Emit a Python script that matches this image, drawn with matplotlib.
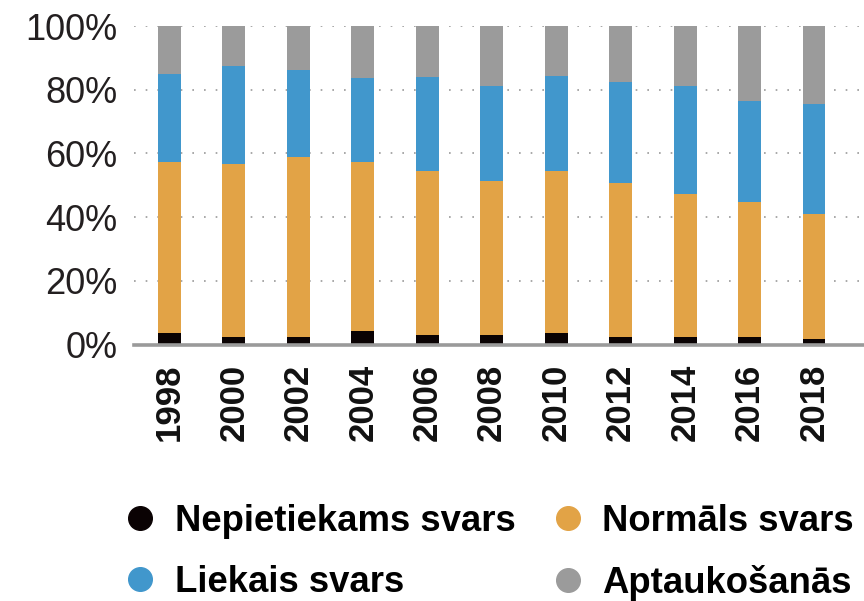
import numpy as np
import matplotlib
matplotlib.use("Agg")
import matplotlib.pyplot as plt
from matplotlib.lines import Line2D

years = [1998, 2000, 2002, 2004, 2006, 2008, 2010, 2012, 2014, 2016, 2018]
underweight = [3.6, 2.4, 2.4, 4.2, 3.0, 3.0, 3.6, 2.4, 2.4, 2.4, 1.7]
normal = [53.7, 54.3, 56.5, 53.1, 51.5, 48.3, 50.9, 48.3, 44.8, 42.3, 39.3]
overweight = [27.6, 30.7, 27.3, 26.4, 29.5, 29.9, 29.8, 31.7, 34.0, 31.7, 34.5]
obese = [15.1, 12.6, 13.8, 16.3, 16.0, 18.8, 15.7, 17.6, 18.8, 23.6, 24.5]

labels = ["Nepietiekams svars", "Normāls svars", "Liekais svars", "Aptaukošanās"]
colors = ["#0a0203", "#e2a346", "#4197cc", "#9b9b9b"]

plt.rcParams["font.family"] = ["Liberation Sans", "DejaVu Sans"]

fig = plt.figure(figsize=(8.64, 6.01), dpi=100)
ax = fig.add_axes([134 / 864, 256.5 / 601, 1 - 134 / 864, (344.5 - 26) / 601])

x = np.array(years, dtype=float)
bottom = np.zeros(len(years))
for vals, col in zip([underweight, normal, overweight, obese], colors):
    ax.bar(x, vals, width=0.71, bottom=bottom, color=col, zorder=2)
    bottom += np.array(vals)

ax.set_xlim(1996.9, 2019.55)
ax.set_ylim(0, 100)
ax.set_yticks([0, 20, 40, 60, 80, 100])
ax.set_yticklabels([f"{v}%" for v in [0, 20, 40, 60, 80, 100]],
                   fontsize=26, color="#231f20")
ax.set_xticks(years)
ax.set_xticklabels([str(y) for y in years], rotation=90, fontsize=25,
                   fontweight="bold", color="#111111")
ax.tick_params(axis="both", length=0)
ax.tick_params(axis="y", pad=12)
ax.tick_params(axis="x", pad=14)

# punktiirjooned taustal
ax.grid(axis="y", color="#999999", linewidth=1.2, linestyle=(0, (1, 6)))
ax.set_axisbelow(True)
for s in ["top", "right", "left"]:
    ax.spines[s].set_visible(False)
ax.spines["bottom"].set_color("#9a9a9a")
ax.spines["bottom"].set_linewidth(2.6)
ax.spines["bottom"].set_zorder(3)

handles = [Line2D([], [], linestyle="none", marker="o", markersize=17,
                  markerfacecolor=c, markeredgecolor=c) for c in colors]
order = [0, 2, 1, 3]
fig.legend([handles[i] for i in order], [labels[i] for i in order],
           loc="upper left", bbox_to_anchor=(122 / 864, 1 - 504 / 601),
           ncol=2, frameon=False, borderpad=0, borderaxespad=0,
           handlelength=1.0, handletextpad=0.44, columnspacing=0.94,
           labelspacing=0.7, prop={"size": 26.3, "weight": "bold"})

fig.savefig("out.png", dpi=100)
